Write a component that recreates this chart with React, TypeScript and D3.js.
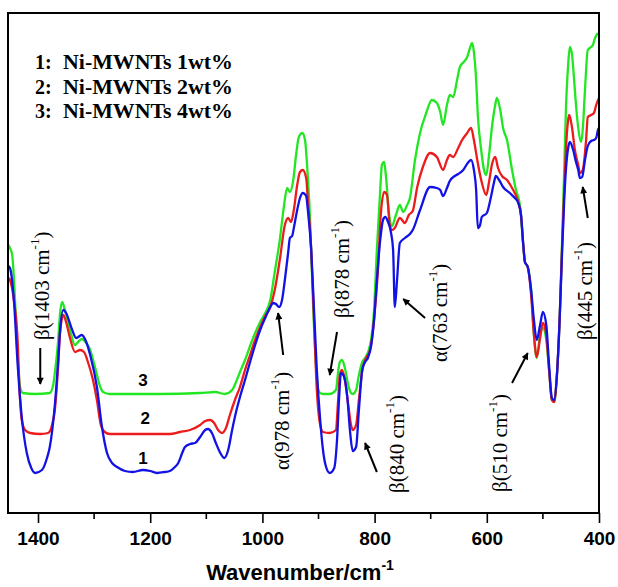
import React, { useEffect, useRef } from 'react'
import * as d3 from 'd3'

const width = 618
const height = 587
const margin = { top: 13, right: 19, bottom: 74, left: 8 }

// wavenumber axis (cm-1), reversed like an IR spectrum
const xDomain: [number, number] = [1453.5, 400]
const xTicks = [1400, 1200, 1000, 800, 600, 400]
const xMinorTicks = [1300, 1100, 900, 700, 500]

const legendLabels = ['1:', '2:', '3:']
const legendNames = ['Ni-MWNTs 1wt%', 'Ni-MWNTs 2wt%', 'Ni-MWNTs 4wt%']
const seriesColors = ['#1212e6', '#ec1c1c', '#22e622']

// [wavenumber, transmittance a.u.]
const spectrum1: [number, number][] = [
  [1453, 49.4], [1450, 49], [1443, 42.6], [1436, 29.2], [1429, 19.2], [1420, 12], [1412, 9], [1405, 8],
  [1393, 8.6], [1384, 11], [1379, 13.2], [1370, 21.6], [1364, 30.6], [1361, 36], [1355, 40.6], [1350, 40],
  [1339, 36.6], [1332, 35], [1322, 35.6], [1314, 34.2], [1307, 31.6], [1295, 25.2], [1286, 17.2], [1277, 12],
  [1268, 10], [1259, 9.2], [1245, 8.4], [1231, 8.2], [1213, 8.6], [1200, 8.4], [1188, 8], [1174, 8.2],
  [1165, 8.4], [1156, 9.2], [1150, 10], [1143, 12], [1138, 13.2], [1129, 13.8], [1120, 14], [1111, 15.2],
  [1102, 16.6], [1097, 16.8], [1090, 16], [1083, 14], [1076, 12.2], [1068, 11], [1061, 12.6], [1054, 16.6],
  [1047, 20.2], [1040, 23.2], [1031, 26.6], [1022, 30.2], [1013, 33.6], [1004, 36.6], [995, 39], [986, 41.2],
  [981, 42], [976, 41.8], [970, 41.2], [965, 42.6], [960, 46.6], [954, 52.2], [951, 55], [947, 55.4],
  [944, 57], [938, 60.6], [933, 63], [928, 64], [922, 63.4], [919, 60.6], [913, 52.6], [908, 40.6],
  [903, 28.6], [897, 18.6], [892, 12.6], [887, 9.4], [880, 8], [872, 9], [867, 14.6], [863, 23.6],
  [860, 28], [855, 27.4], [849, 23.6], [844, 16.6], [839, 12.4], [833, 13.2], [828, 20.6], [822, 28.6],
  [817, 30.2], [812, 31], [806, 33.6], [801, 38.6], [796, 46.6], [790, 54.6], [785, 58.6], [781, 59.2],
  [776, 58.2], [771, 56.2], [767, 52.6], [764, 41.2], [760, 46.6], [755, 54], [746, 55], [737, 55.8],
  [732, 56.6], [719, 60.6], [701, 65.2], [689, 65], [683, 64.6], [678, 63.4], [671, 65], [666, 66.4],
  [657, 67.4], [651, 67.8], [642, 68.6], [634, 70], [628, 70.6], [623, 68.6], [619, 64.6], [616, 57],
  [612, 57.6], [609, 59.2], [600, 60], [593, 63], [587, 66.2], [584, 67.4], [578, 66.6], [571, 65.2],
  [559, 64], [550, 63], [544, 62], [539, 59.6], [535, 53.6], [532, 50.2], [527, 49.2], [521, 44.6],
  [516, 38.6], [511, 34.6], [505, 37.6], [500, 40.2], [494, 37.6], [489, 29.6], [484, 23], [480, 22.6],
  [475, 27.6], [470, 39.2], [466, 51.6], [462, 62.6], [459, 68.6], [455, 73], [452, 74.2], [446, 72.6],
  [441, 70.2], [437, 68.6], [434, 67], [430, 67.2], [425, 70.6], [420, 73.4], [414, 74.4], [409, 74.6],
  [405, 75], [402, 76.6], [400, 77],
]

const spectrum2: [number, number][] = [
  [1453, 47], [1450, 46.6], [1443, 42.6], [1437, 36], [1432, 22.6], [1429, 18.6], [1423, 16.6], [1414, 16],
  [1396, 15.8], [1382, 16], [1375, 17.6], [1370, 20.6], [1364, 29.6], [1361, 35.6], [1355, 39.6], [1350, 38.2],
  [1343, 35], [1334, 32.2], [1325, 32.6], [1318, 32.2], [1311, 30.2], [1302, 26.6], [1295, 22.6], [1288, 17.6],
  [1281, 16.2], [1272, 15.8], [1236, 15.8], [1200, 15.8], [1165, 15.8], [1147, 16.2], [1129, 16.6], [1111, 17.6],
  [1102, 18.4], [1093, 18.6], [1086, 18], [1079, 16.6], [1072, 16], [1065, 17], [1058, 19.6], [1049, 22.6],
  [1040, 25.2], [1031, 28.6], [1022, 31.6], [1013, 34.6], [1004, 37.2], [995, 39.4], [986, 41.2], [978, 44.6],
  [969, 50.6], [960, 57.6], [954, 59], [949, 58.2], [944, 60.6], [938, 65.6], [933, 68.2], [928, 68.6],
  [922, 67], [919, 62.6], [913, 52.6], [908, 38.6], [903, 24.6], [897, 17.6], [892, 16.2], [880, 16],
  [869, 16.6], [865, 22.6], [862, 27.6], [858, 28.6], [853, 26.6], [847, 21.6], [842, 17.6], [839, 16.6],
  [833, 17.6], [828, 22.6], [822, 28.6], [817, 30.6], [808, 32.6], [801, 38.6], [794, 48.6], [789, 59.6],
  [783, 64.2], [778, 63.6], [773, 57.6], [769, 56.6], [764, 57], [755, 59], [746, 58], [739, 59.6],
  [732, 60.4], [724, 65.2], [714, 69.2], [701, 72], [689, 71.2], [678, 68.6], [671, 70.6], [666, 71.6],
  [660, 71.2], [651, 73], [644, 74.6], [635, 76], [628, 77], [623, 74.6], [617, 70.6], [610, 66.6],
  [601, 63.6], [596, 66.2], [591, 69.6], [585, 71.2], [580, 69], [573, 67.4], [564, 66.6], [555, 65],
  [544, 62.2], [539, 59.6], [535, 53.6], [532, 50.2], [527, 49.2], [521, 43.6], [516, 35.6], [511, 31.2],
  [505, 35], [500, 38], [494, 35.6], [489, 28.6], [484, 22.6], [480, 22.2], [475, 27.6], [470, 39.2],
  [466, 52.6], [462, 64.6], [459, 72.6], [455, 78.6], [453, 79.6], [448, 77], [443, 72.6], [437, 69.6],
  [434, 68], [429, 68.6], [423, 74.6], [420, 79.2], [414, 79.6], [409, 80], [405, 81.6], [400, 83],
]

const spectrum3: [number, number][] = [
  [1453, 53.6], [1450, 53], [1446, 51.6], [1441, 42.6], [1436, 30.6], [1432, 25.2], [1427, 24], [1405, 23.8],
  [1379, 24], [1373, 25.6], [1370, 28], [1364, 34.6], [1361, 39.6], [1357, 42.2], [1352, 40.6], [1343, 36.6],
  [1334, 33.6], [1327, 34.4], [1322, 34.8], [1314, 34], [1307, 32.6], [1298, 29], [1289, 25.2], [1284, 24.2],
  [1272, 23.8], [1183, 23.8], [1111, 24], [1084, 24.2], [1067, 23.8], [1054, 24.6], [1047, 26.2], [1040, 28.2],
  [1031, 30.6], [1022, 33.4], [1013, 36], [1004, 38.2], [995, 40], [986, 42.6], [978, 48.2], [969, 54.6],
  [962, 61], [956, 65], [951, 64.2], [945, 66.6], [940, 71.6], [935, 75.2], [929, 76], [924, 74.6],
  [921, 70.6], [915, 58.6], [910, 42.6], [904, 28.6], [899, 24.2], [892, 23.8], [880, 23.8], [869, 24.6],
  [865, 28.2], [862, 30.2], [858, 30.6], [853, 29], [847, 25.6], [842, 24], [839, 23.8], [833, 24.6],
  [828, 27.6], [822, 30.2], [817, 31], [808, 33.6], [801, 40.6], [796, 52.6], [790, 64.6], [787, 69.6],
  [783, 70.2], [780, 67.6], [774, 59.6], [769, 57.4], [762, 59.6], [755, 61.6], [749, 60.2], [742, 61.6],
  [737, 63], [728, 70.6], [719, 76], [708, 80], [698, 82.6], [689, 82], [683, 80.2], [678, 77.6],
  [671, 81.6], [666, 83.6], [660, 83.2], [653, 86.6], [648, 89.2], [641, 90.2], [635, 91.2], [630, 93],
  [626, 94], [623, 92.2], [619, 86.6], [616, 79.6], [610, 72.6], [605, 68.6], [601, 67.6], [596, 71.6],
  [591, 77], [585, 81.6], [582, 83], [576, 80.6], [571, 77], [564, 74.6], [555, 68.6], [548, 64.6],
  [541, 61.6], [535, 53.6], [532, 50.2], [527, 49.2], [521, 44.6], [516, 35.6], [511, 31], [505, 35.6],
  [500, 37], [494, 34.6], [489, 28.6], [484, 22.6], [480, 22.2], [475, 27.6], [470, 39.2], [466, 53.6],
  [462, 68.6], [459, 80.6], [455, 89.6], [452, 93.2], [448, 91.6], [445, 87.6], [441, 81.6], [437, 77],
  [432, 74.2], [429, 76.6], [425, 84.6], [420, 92.6], [414, 93.2], [411, 93.6], [407, 95], [402, 96],
]

// curve numbers placed on the flat part of each trace
const curveNumbers = ['1', '2', '3']
const curveNumberPos: [number, number][] = [[1213, 11], [1209, 19], [1213, 26.6]]

// peak assignments: label, text position (wavenumber, value at text start), arrow tail, arrow tip
const peakLabels = ['β(1403 cm', 'α(978 cm', 'β(878 cm', 'β(840 cm', 'α(763 cm', 'β(510 cm', 'β(445 cm']
const peakTextPos: [number, number][] = [[1393, 34.6], [965, 8.6], [858, 39], [760, 4], [683, 30.2], [576, 4.2], [425, 34.6]]
const peakArrowTail: [number, number][] = [[1396, 33], [963, 31.6], [867, 36.2], [796, 8.2], [710, 39], [555, 26], [420, 59]]
const peakArrowTip: [number, number][] = [[1396, 25.8], [972, 40], [880, 27.6], [817, 14], [749, 42.8], [527, 32], [429, 65.2]]

export default function App() {
  const ref = useRef<SVGSVGElement>(null)

  useEffect(() => {
    const svg = d3.select(ref.current)
    svg.selectAll('*').remove()

    const x = d3.scaleLinear().domain(xDomain).range([margin.left, width - margin.right])
    const y = d3.scaleLinear().domain([0, 100]).range([height - margin.bottom, margin.top])

    const defs = svg.append('defs')
    defs.append('clipPath').attr('id', 'plot-clip')
      .append('rect')
      .attr('x', margin.left).attr('y', margin.top)
      .attr('width', width - margin.left - margin.right)
      .attr('height', height - margin.top - margin.bottom)
    defs.append('marker')
      .attr('id', 'arrow')
      .attr('viewBox', '0 0 10 10')
      .attr('refX', 9).attr('refY', 5)
      .attr('markerWidth', 9).attr('markerHeight', 7)
      .attr('markerUnits', 'userSpaceOnUse')
      .attr('orient', 'auto')
      .append('path').attr('d', 'M0,0 L10,5 L0,10 z').attr('fill', '#000')

    const line = d3.line<[number, number]>()
      .x(d => x(d[0]))
      .y(d => y(d[1]))
      .curve(d3.curveMonotoneX)

    // draw 3 on the back, 1 on top
    const spectra = [spectrum1, spectrum2, spectrum3]
    svg.append('g').attr('clip-path', 'url(#plot-clip)')
      .selectAll('path')
      .data([2, 1, 0])
      .enter()
      .append('path')
      .attr('d', i => line(spectra[i]))
      .attr('fill', 'none')
      .attr('stroke', i => seriesColors[i])
      .attr('stroke-width', 2.3)
      .attr('stroke-linejoin', 'round')

    // frame
    svg.append('rect')
      .attr('x', margin.left).attr('y', margin.top)
      .attr('width', width - margin.left - margin.right)
      .attr('height', height - margin.top - margin.bottom)
      .attr('fill', 'none').attr('stroke', '#000').attr('stroke-width', 2)

    // bottom axis
    const xAxis = d3.axisBottom(x).tickValues(xTicks).tickSize(10).tickSizeOuter(0).tickFormat(d3.format('d'))
    const gx = svg.append('g')
      .attr('transform', 'translate(0,' + (height - margin.bottom) + ')')
      .call(xAxis)
    gx.select('.domain').remove()
    gx.selectAll('line').attr('stroke', '#000').attr('stroke-width', 1.6)
    gx.selectAll('text')
      .attr('dy', null).attr('y', 32)
      .attr('font-family', '"Liberation Sans", Arial, sans-serif')
      .attr('font-weight', 'bold').attr('font-size', 19).attr('fill', '#000')
    svg.append('g')
      .selectAll('line')
      .data(xMinorTicks)
      .enter()
      .append('line')
      .attr('x1', d => x(d)).attr('x2', d => x(d))
      .attr('y1', height - margin.bottom).attr('y2', height - margin.bottom + 6)
      .attr('stroke', '#000').attr('stroke-width', 1.6)

    const title = svg.append('text')
      .attr('x', 300).attr('y', 580)
      .attr('text-anchor', 'middle')
      .attr('font-family', '"Liberation Sans", Arial, sans-serif')
      .attr('font-weight', 'bold').attr('font-size', 22)
    title.append('tspan').text('Wavenumber/cm')
    title.append('tspan').attr('dy', -10).attr('font-size', 14).text('-1')

    // legend
    const legend = svg.append('g')
      .attr('font-family', '"Liberation Serif", "Times New Roman", serif')
      .attr('font-weight', 'bold').attr('font-size', 20)
    legendLabels.forEach((lab, i) => {
      const t = legend.append('text').attr('y', 69 + i * 24.5)
      t.append('tspan').attr('x', 35).text(lab)
      t.append('tspan').attr('x', 63)
        .attr('textLength', 170).attr('lengthAdjust', 'spacingAndGlyphs')
        .text(legendNames[i])
    })

    // curve numbers
    svg.append('g')
      .selectAll('text')
      .data(curveNumbers)
      .enter()
      .append('text')
      .attr('x', (d, i) => x(curveNumberPos[i][0]))
      .attr('y', (d, i) => y(curveNumberPos[i][1]))
      .attr('text-anchor', 'middle').attr('dominant-baseline', 'central')
      .attr('font-family', '"Liberation Sans", Arial, sans-serif')
      .attr('font-weight', 'bold').attr('font-size', 17)
      .text(d => d)

    // peak assignments
    const peaks = svg.append('g')
    peakLabels.forEach((lab, i) => {
      const px = x(peakTextPos[i][0])
      const py = y(peakTextPos[i][1])
      const t = peaks.append('text')
        .attr('transform', 'translate(' + px + ',' + py + ') rotate(-90)')
        .attr('dominant-baseline', 'central')
        .attr('font-family', '"Liberation Serif", "Times New Roman", serif')
        .attr('font-size', 21)
      t.append('tspan').text(lab)
      t.append('tspan').attr('dy', -8).attr('font-size', 13).text('-1')
      t.append('tspan').attr('dy', 8).text(')')
      peaks.append('line')
        .attr('x1', x(peakArrowTail[i][0])).attr('y1', y(peakArrowTail[i][1]))
        .attr('x2', x(peakArrowTip[i][0])).attr('y2', y(peakArrowTip[i][1]))
        .attr('stroke', '#000').attr('stroke-width', 2)
        .attr('marker-end', 'url(#arrow)')
    })
  }, [])

  return (
    <svg
      ref={ref}
      width={width}
      height={height}
      style={{ position: 'absolute', left: 0, top: 0, background: '#fff' }}
    />
  )
}
